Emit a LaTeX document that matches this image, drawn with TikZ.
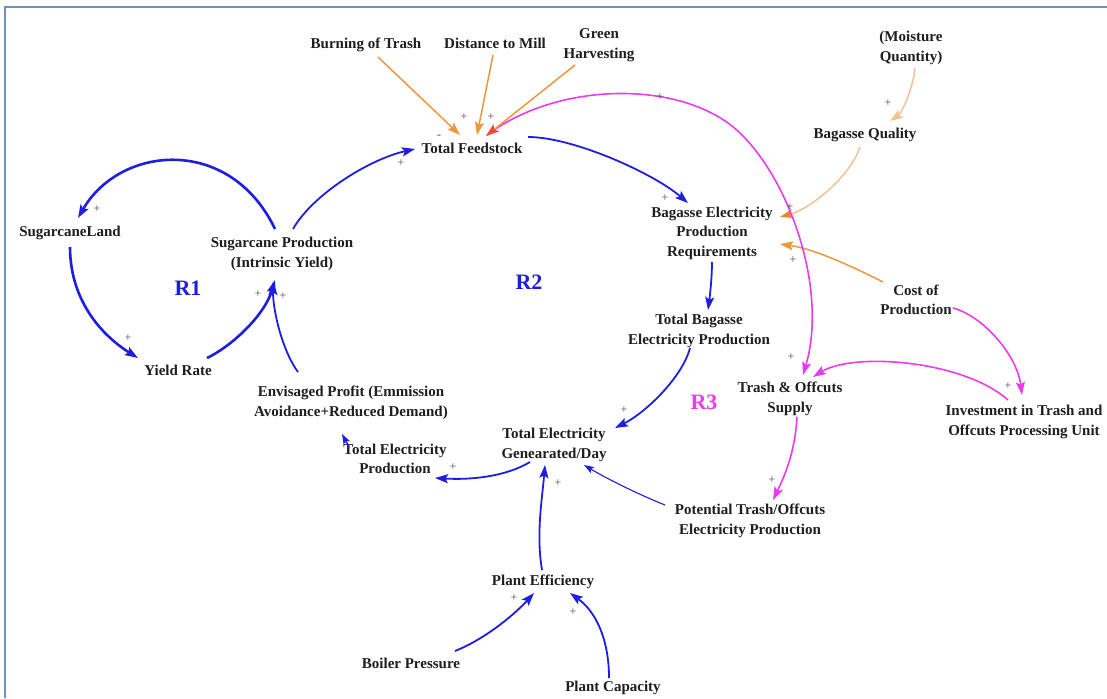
\documentclass[tikz,border=0pt]{standalone}
\usepackage{fontspec}
\setmainfont{Liberation Serif}
\usetikzlibrary{arrows.meta}
\definecolor{cldblue}{RGB}{30,30,225}
\definecolor{cldmag}{RGB}{235,60,235}
\definecolor{cldorange}{RGB}{240,150,60}
\definecolor{cldtan}{RGB}{240,195,150}
\definecolor{cldtipor}{RGB}{245,135,35}
\definecolor{cldred}{RGB}{240,70,60}
\definecolor{cldtext}{RGB}{30,30,30}
\definecolor{frameblue}{RGB}{110,145,195}
\begin{document}
\begin{tikzpicture}[x=1pt,y=-1pt,
  var/.style={font=\fontsize{15}{19.5}\selectfont\bfseries, text=cldtext, align=center, inner sep=0pt},
  sgn/.style={font=\fontsize{12}{12}\selectfont, text=cldtext!80, inner sep=0pt},
  loopname/.style={font=\fontsize{22}{22}\selectfont\bfseries, inner sep=0pt},
  headed/.style={-{Stealth[length=13pt,width=9pt,inset=2.5pt]}},
  bluelink/.style={headed, line width=1.8pt, draw=cldblue},
  bluebold/.style={headed, line width=2.6pt, draw=cldblue},
  bluethin/.style={-{Stealth[length=10pt,width=7pt,inset=2pt]}, line width=1.1pt, draw=cldblue},
  maglink/.style={headed, line width=1.6pt, draw=cldmag},
  orlink/.style={headed, line width=1.5pt, draw=cldorange},
  tanlink/.style={line width=1.5pt, draw=cldtan},
]
\useasboundingbox (0,0) rectangle (1107,698);
\fill[white] (0,0) rectangle (1107,698);
% window frame
\draw[frameblue, line width=2.2pt] (5,698) -- (5,7) -- (1107,7);

% variables
\node[var] (burn)  at (366,45)  {Burning of Trash};
\node[var] (dist)  at (495,43)  {Distance to Mill};
\node[var] (green) at (599,45)  {Green\\Harvesting};
\node[var] (tf)    at (472,148) {Total Feedstock};
\node[var] (moist) at (911,48)  {(Moisture\\Quantity)};
\node[var] (bq)    at (865,135) {Bagasse Quality};
\node[var] (bepr)  at (712,233) {Bagasse Electricity\\Production\\Requirements};
\node[var] (cost)  at (916,300) {Cost of\\Production};
\node[var] (sland) at (70,233)  {SugarcaneLand};
\node[var] (sp)    at (282,254) {Sugarcane Production\\(Intrinsic Yield)};
\node[var] (yr)    at (178,370) {Yield Rate};
\node[var] (env)   at (351,403) {Envisaged Profit (Emmission\\Avoidance+Reduced Demand)};
\node[var] (tep)   at (395,459) {Total Electricity\\Production};
\node[var] (teg)   at (554,445) {Total Electricity\\Genearated/Day};
\node[var] (tbep)  at (699,331) {Total Bagasse\\Electricity Production};
\node[var] (tos)   at (790,399) {Trash \& Offcuts\\Supply};
\node[var] (inv)   at (1024,422) {Investment in Trash and\\Offcuts Processing Unit};
\node[var] (pot)   at (750,521) {Potential Trash/Offcuts\\Electricity Production};
\node[var] (pe)    at (543,582) {Plant Efficiency};
\node[var] (bp)    at (411,663) {Boiler Pressure};
\node[var] (pc)    at (613,688) {Plant Capacity};

% loop labels
\node[loopname, text=cldblue] (r1) at (188,288) {R1};
\node[loopname, text=cldblue] (r2) at (529,282) {R2};
\node[loopname, text=cldmag]  (r3) at (704,402) {R3};

% blue links
\draw[bluebold] ([shift={(-7,-25)}]sp.center) .. controls +(-45,-94) and +(42,-73) .. ([shift={(8,-15)}]sland.center);
\draw[bluebold] ([shift={(0,14)}]sland.center) .. controls +(0,50) and +(-40,-25) .. ([shift={(-40,-12)}]yr.center);
\draw[bluebold] ([shift={(29,-12)}]yr.center) .. controls +(25,-12) and +(-10,35) .. ([shift={(-7,26)}]sp.center);
\draw[bluelink] ([shift={(-53,-31)}]env.center) .. controls +(-15,-20) and +(0,30) .. ([shift={(-9,28)}]sp.center);
\draw[bluelink] ([shift={(11,-25)}]sp.center) .. controls +(20,-35) and +(-45,10) .. ([shift={(-57,1)}]tf.center);
\draw[bluelink] ([shift={(56,-11)}]tf.center) .. controls +(45,0) and +(-35,-30) .. ([shift={(-24,-30)}]bepr.center);
\draw[bluelink] ([shift={(0,29)}]bepr.center) .. controls +(0,15) and +(2,-15) .. ([shift={(9,-21)}]tbep.center);
\draw[bluelink] ([shift={(-9,17)}]tbep.center) .. controls +(-8,30) and +(30,-15) .. ([shift={(61,-17)}]teg.center);
\draw[bluelink] ([shift={(-24,17)}]teg.center) .. controls +(-25,15) and +(35,2) .. ([shift={(40,19)}]tep.center);
\draw[bluethin, line width=1.6pt] ([shift={(-46,-12)}]tep.center) -- ([shift={(-9,31)}]env.center);
\draw[bluelink] ([shift={(-1,-12)}]pe.center) .. controls +(-6,-35) and +(-3,35) .. ([shift={(-9,20)}]teg.center);
\draw[bluethin] ([shift={(-85,-16)}]pot.center) .. controls +(-30,-12) and +(20,12) .. ([shift={(30,20)}]teg.center);
\draw[bluelink] ([shift={(44,-12)}]bp.center) .. controls +(30,-12) and +(-20,22) .. ([shift={(-9,11)}]pe.center);
\draw[bluelink] ([shift={(-4,-10)}]pc.center) .. controls +(0,-40) and +(25,18) .. ([shift={(27,11)}]pe.center);

% orange links
\draw[orlink] ([shift={(12,12)}]burn.center) -- ([shift={(-12,-13)}]tf.center);
\draw[orlink] ([shift={(-2,12)}]dist.center) -- ([shift={(5,-13)}]tf.center);
\draw[tanlink, -{Stealth[length=13pt,width=9pt,inset=2.5pt,color=cldtan]}] ([shift={(4,20)}]moist.center) .. controls +(-2,20) and +(12,-8) .. ([shift={(25,-14)}]bq.center);
\draw[tanlink, -{Stealth[length=13pt,width=9pt,inset=2.5pt,color=cldtipor]}] ([shift={(-5,12)}]bq.center) .. controls +(-10,30) and +(30,-8) .. ([shift={(68,-16)}]bepr.center);
\draw[orlink] ([shift={(-33,-18)}]cost.center) .. controls +(-30,-15) and +(35,5) .. ([shift={(68,11)}]bepr.center);

% magenta links
\draw[maglink] ([shift={(15,-13)}]tf.center) .. controls (560,80) and (685,80) .. (740,133) .. controls (790,181) and (828,290) .. ([shift={(13,-24)}]tos.center);
\draw[orlink, -{Stealth[length=13pt,width=9pt,inset=2.5pt,color=cldred]}] ([shift={(-24,20)}]green.center) -- ([shift={(14,-12)}]tf.center);
\draw[maglink] ([shift={(37,8)}]cost.center) .. controls +(30,8) and +(-5,-40) .. ([shift={(-2,-27)}]inv.center);
\draw[maglink] ([shift={(-16,-22)}]inv.center) .. controls +(-45,-40) and +(40,-25) .. ([shift={(23,-22)}]tos.center);
\draw[maglink] ([shift={(7,18)}]tos.center) .. controls +(-2,35) and +(12,-25) .. ([shift={(23,-21)}]pot.center);

% polarity signs
\node[sgn] (s1)  at (97,209)   {+};
\node[sgn] (s2)  at (128,338)  {+};
\node[sgn] (s3)  at (258,294)  {+};
\node[sgn] (s4)  at (283,296)  {+};
\node[sgn] (s5)  at (401,163)  {+};
\node[sgn] (s6)  at (439,137)  {-};
\node[sgn] (s7)  at (464,117)  {+};
\node[sgn] (s8)  at (491,117)  {+};
\node[sgn] (s9)  at (660,97)   {+};
\node[sgn] (s10) at (665,198)  {+};
\node[sgn] (s11) at (888,103)  {+};
\node[sgn] (s12) at (790,207)  {+};
\node[sgn] (s13) at (793,260)  {+};
\node[sgn] (s14) at (624,410)  {+};
\node[sgn] (s15) at (453,467)  {+};
\node[sgn] (s16) at (558,483)  {+};
\node[sgn] (s17) at (514,598)  {+};
\node[sgn] (s18) at (573,612)  {+};
\node[sgn] (s19) at (791,357)  {+};
\node[sgn] (s20) at (1008,386) {+};
\node[sgn] (s21) at (772,480)  {+};
\end{tikzpicture}
\end{document}
